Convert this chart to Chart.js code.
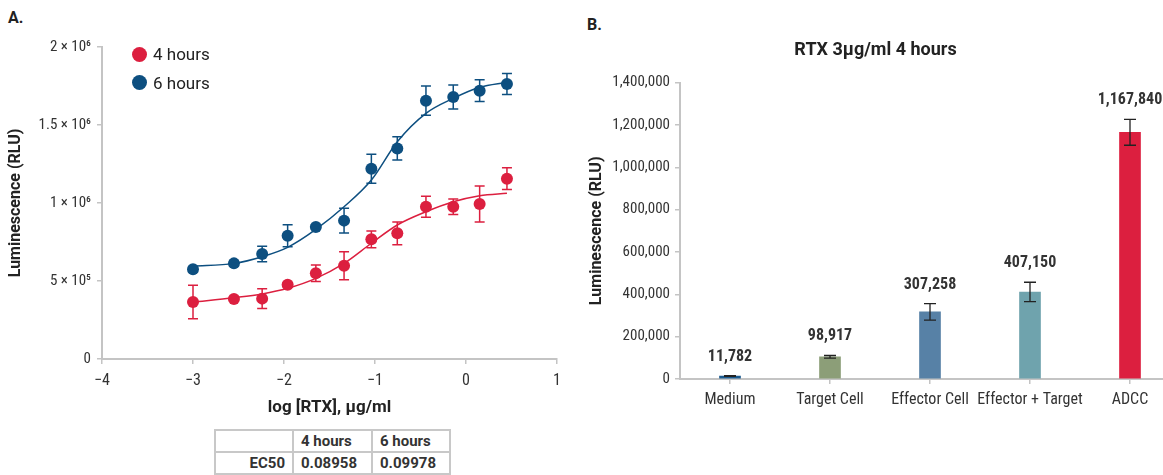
<!DOCTYPE html>
<html>
<head>
<meta charset="utf-8">
<script src="https://cdn.jsdelivr.net/npm/chart.js@4.4.1/dist/chart.umd.min.js"></script>
<style>
  html, body { margin: 0; padding: 0; background: #fff; overflow: hidden; }
  body { width: 1163px; height: 475px; position: relative; font-family: Roboto, sans-serif; color: #222; }
  canvas { position: absolute; top: 0; }
  #chartA { left: 0; }
  #chartB { left: 560px; }
  .panel { position: absolute; font-weight: bold; font-size: 16px; line-height: 20px; }
  .dot { position: absolute; width: 15px; height: 15px; border-radius: 50%; }
  .legtext { position: absolute; font-size: 17px; line-height: 20px; color: #222; }
  #ec50 { position: absolute; left: 214px; top: 429px; border-collapse: collapse; font-size: 15px; font-weight: bold; color: #333; }
  #ec50 td { border: 2px solid #c8c8c8; height: 20px; padding: 0 7px; }
  #ec50 td.r { text-align: right; }
</style>
</head>
<body>
<div class="panel" style="left:8px; top:8px">A.</div>
<div class="panel" style="left:587px; top:15px">B.</div>
<canvas id="chartA" width="580" height="420"></canvas>
<canvas id="chartB" width="640" height="420"></canvas>
<div id="legendA"></div>
<table id="ec50"></table>
<script>
// ---- panel A: dose response ----
const doseLog = [-3.0, -2.55, -2.24, -1.96, -1.65, -1.34, -1.04, -0.755, -0.44, -0.14, 0.15, 0.45];
const mean4h = [365000, 385000, 387000, 476000, 549000, 598000, 767000, 806000, 976000, 976000, 994000, 1156000];
const err4h = [107000, 15000, 64000, 15000, 53000, 90000, 54000, 73000, 67000, 50000, 115000, 70000];
const mean6h = [575000, 613000, 673000, 790000, 846000, 887000, 1220000, 1350000, 1656000, 1680000, 1720000, 1763000];
const err6h = [15000, 15000, 50000, 70000, 15000, 80000, 93000, 74000, 94000, 77000, 70000, 67000];
// fitted curves
const fit4h = [365000, 393000, 417000, 453000, 517000, 613000, 742000, 859000, 944000, 1008000, 1047000, 1062000];
const fit6h = [596000, 613000, 656000, 716000, 831000, 976000, 1147000, 1393000, 1575000, 1671000, 1742000, 1774000];
const seriesNames = ['4 hours', '6 hours'];
const ec50Values = ['0.08958', '0.09978'];
const xTickLabelsA = ['\u22124', '\u22123', '\u22122', '\u22121', '0', '1'];
const yTickLabelsA = ['0', '5 \u00d7 10\u2075', '1 \u00d7 10\u2076', '1.5 \u00d7 10\u2076', '2 \u00d7 10\u2076'];

// ---- panel B: bars ----
const barCategories = ['Medium', 'Target Cell', 'Effector Cell', 'Effector + Target', 'ADCC'];
const barMeans = [14000, 105000, 317000, 411000, 1165000];
const barErrors = [2000, 6000, 39000, 46000, 61000];
const barLabels = [11782, 98917, 307258, 407150, 1167840];

const red = '#dc1f3f';
const blue = '#0d4f80';
const barColors = ['#1b5a8e', '#8c9e78', '#5781a6', '#6fa3ad', '#dc1f3f'];
const axisColor = '#c4c4c4';
const textColor = '#333';
const tickFamily = "'Roboto Condensed', Roboto, sans-serif";

function pts(xs, ys) {
  return xs.map((x, i) => ({ x: x, y: ys[i] }));
}

function drawErrors(chart, opts) {
  const ctx = chart.ctx;
  const yScale = chart.scales.y;
  chart.data.datasets.forEach((ds, i) => {
    if (!ds.errors) return;
    const meta = chart.getDatasetMeta(i);
    ctx.save();
    ctx.strokeStyle = opts.color || ds.backgroundColor;
    ctx.lineWidth = opts.width;
    meta.data.forEach((el, j) => {
      const v = typeof ds.data[j] === 'object' ? ds.data[j].y : ds.data[j];
      const top = yScale.getPixelForValue(v + ds.errors[j]);
      const bot = yScale.getPixelForValue(v - ds.errors[j]);
      ctx.beginPath();
      ctx.moveTo(el.x, top); ctx.lineTo(el.x, bot);
      ctx.moveTo(el.x - opts.cap, top); ctx.lineTo(el.x + opts.cap, top);
      ctx.moveTo(el.x - opts.cap, bot); ctx.lineTo(el.x + opts.cap, bot);
      ctx.stroke();
    });
    ctx.restore();
  });
}

const errorBars = {
  id: 'errorBars',
  beforeDatasetsDraw(chart, args, opts) { if (opts.behind) drawErrors(chart, opts); },
  afterDatasetsDraw(chart, args, opts) { if (!opts.behind) drawErrors(chart, opts); }
};

const valueLabels = {
  id: 'valueLabels',
  afterDatasetsDraw(chart) {
    const ctx = chart.ctx;
    const ds = chart.data.datasets[0];
    const meta = chart.getDatasetMeta(0);
    ctx.save();
    ctx.font = "bold 16px " + tickFamily;
    ctx.fillStyle = textColor;
    ctx.textAlign = 'center';
    ctx.textBaseline = 'middle';
    meta.data.forEach((el, j) => {
      const y = chart.scales.y.getPixelForValue(ds.data[j] + ds.errors[j]) - 19;
      ctx.fillText(barLabels[j].toLocaleString('en-US'), el.x, y);
    });
    ctx.restore();
  }
};

function axisGrid() {
  return { drawOnChartArea: false, drawTicks: true, tickLength: 5, color: axisColor, lineWidth: 1.5 };
}

new Chart(document.getElementById('chartA'), {
  type: 'scatter',
  data: {
    datasets: [
      { type: 'line', data: pts(doseLog, fit4h), borderColor: red, borderWidth: 1.5, pointRadius: 0, cubicInterpolationMode: 'monotone', fill: false },
      { type: 'line', data: pts(doseLog, fit6h), borderColor: blue, borderWidth: 1.5, pointRadius: 0, cubicInterpolationMode: 'monotone', fill: false },
      { label: seriesNames[0], data: pts(doseLog, mean4h), errors: err4h, backgroundColor: red, borderWidth: 0, pointRadius: 6, pointHoverRadius: 6 },
      { label: seriesNames[1], data: pts(doseLog, mean6h), errors: err6h, backgroundColor: blue, borderWidth: 0, pointRadius: 6, pointHoverRadius: 6 }
    ]
  },
  options: {
    responsive: false,
    animation: false,
    devicePixelRatio: 1,
    layout: { padding: { left: 0, right: 23, top: 47, bottom: 0 } },
    plugins: {
      legend: { display: false },
      tooltip: { enabled: false },
      errorBars: { behind: true, width: 1.5, cap: 5 }
    },
    scales: {
      x: {
        type: 'linear', min: -4, max: 1,
        afterFit: (s) => { s.height = 61; },
        grid: axisGrid(),
        border: { color: axisColor, width: 2 },
        ticks: {
          stepSize: 1, padding: 7, color: textColor, maxRotation: 0,
          font: { family: tickFamily, size: 16 },
          callback: (v) => xTickLabelsA[v + 4]
        },
        title: { display: true, text: 'log [RTX], \u00b5g/ml', color: '#222', font: { family: 'Roboto', size: 17, weight: 'bold' }, padding: { top: 0, bottom: 2 } }
      },
      y: {
        min: 0, max: 2000000,
        afterFit: (s) => { s.width = 102; },
        grid: axisGrid(),
        border: { color: axisColor, width: 2 },
        ticks: {
          stepSize: 500000, padding: 6, color: textColor,
          font: { family: tickFamily, size: 15 },
          callback: (v) => yTickLabelsA[Math.round(v / 500000)]
        },
        title: { display: true, text: 'Luminescence (RLU)', color: '#222', font: { family: 'Roboto', size: 16, weight: 'bold' }, padding: { top: 6, bottom: 0 } }
      }
    }
  },
  plugins: [errorBars]
});

new Chart(document.getElementById('chartB'), {
  type: 'bar',
  data: {
    labels: barCategories,
    datasets: [{ data: barMeans, errors: barErrors, backgroundColor: barColors, barThickness: 21 }]
  },
  options: {
    responsive: false,
    animation: false,
    devicePixelRatio: 1,
    layout: { padding: { left: 11, right: 20, top: 0, bottom: 0 } },
    plugins: {
      legend: { display: false },
      tooltip: { enabled: false },
      title: { display: true, text: 'RTX 3\u00b5g/ml 4 hours', color: '#222', font: { family: 'Roboto', size: 18, weight: 'bold' }, padding: { top: 40, bottom: 21 } },
      errorBars: { behind: false, width: 1.3, cap: 6, color: '#222' }
    },
    scales: {
      x: {
        afterFit: (s) => { s.height = 41; },
        grid: Object.assign(axisGrid(), { offset: false }),
        border: { color: axisColor, width: 2 },
        ticks: { padding: 6, color: textColor, maxRotation: 0, autoSkip: false, font: { family: tickFamily, size: 16 } }
      },
      y: {
        min: 0, max: 1400000,
        afterFit: (s) => { s.width = 109; },
        grid: axisGrid(),
        border: { color: axisColor, width: 2 },
        ticks: {
          stepSize: 200000, padding: 5, color: textColor,
          font: { family: tickFamily, size: 15 },
          callback: (v) => v.toLocaleString('en-US')
        },
        title: { display: true, text: 'Luminescence (RLU)', color: '#222', font: { family: 'Roboto', size: 16, weight: 'bold' }, padding: { top: 16, bottom: 0 } }
      }
    }
  },
  plugins: [errorBars, valueLabels]
});

// legend for panel A
const legendA = document.getElementById('legendA');
[red, blue].forEach((c, i) => {
  const cy = 54 + i * 28.5;
  const dot = document.createElement('div');
  dot.className = 'dot';
  dot.style.background = c;
  dot.style.left = '131.5px';
  dot.style.top = (cy - 7.5) + 'px';
  legendA.appendChild(dot);
  const t = document.createElement('div');
  t.className = 'legtext';
  t.textContent = seriesNames[i];
  t.style.left = '153px';
  t.style.top = (cy - 10) + 'px';
  legendA.appendChild(t);
});

// EC50 table
const table = document.getElementById('ec50');
const head = table.insertRow();
head.insertCell().style.width = '62px';
seriesNames.forEach((n, i) => {
  const c = head.insertCell();
  c.textContent = n;
  c.style.width = i === 0 ? '63px' : '62px';
});
const row = table.insertRow();
const lab = row.insertCell();
lab.textContent = 'EC50';
lab.className = 'r';
ec50Values.forEach((v) => { row.insertCell().textContent = v; });
</script>
</body>
</html>
